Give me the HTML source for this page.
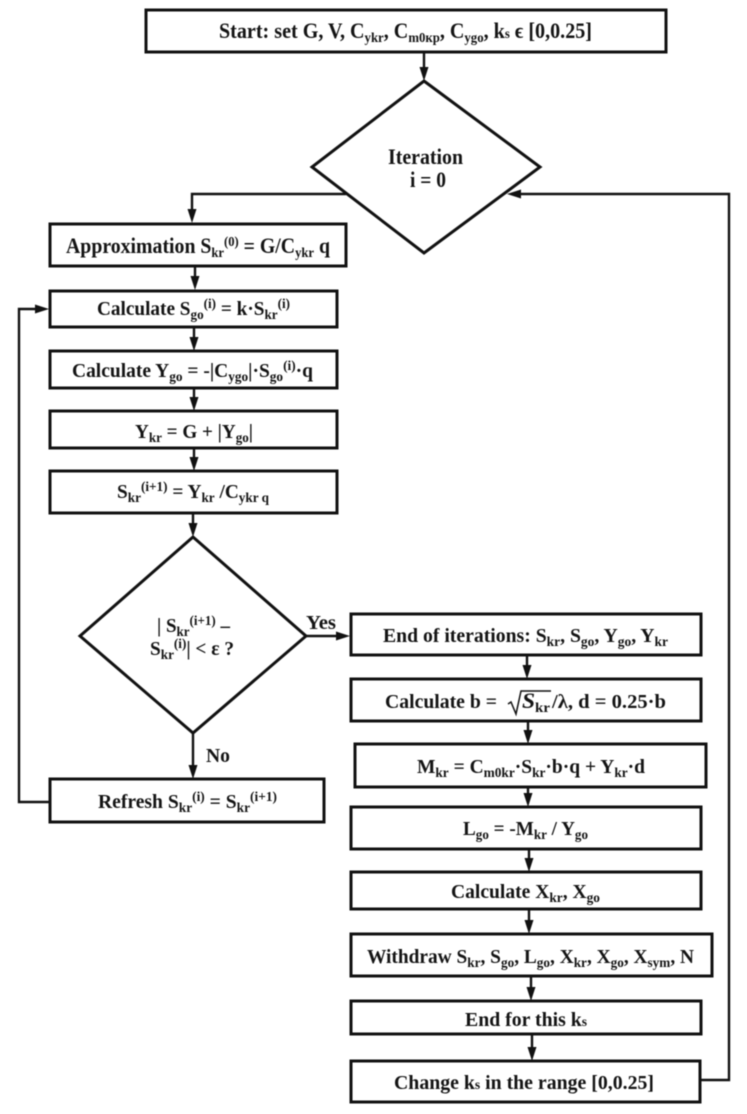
<!DOCTYPE html>
<html>
<head>
<meta charset="utf-8">
<style>
html,body{margin:0;padding:0;background:#fff;width:747px;height:1114px;overflow:hidden}
svg{display:block}
text{font-family:"Liberation Serif",serif;font-weight:bold;font-size:20.5px;fill:#141414}
.s{font-size:14px}
.t{font-size:22px}
rect,polygon.d{fill:#fff;stroke:#111;stroke-width:3}
path.l{fill:none;stroke:#111;stroke-width:2.4}
polygon.a{fill:#111;stroke:none}
</style>
</head>
<body>
<svg width="747" height="1114" viewBox="0 0 747 1114" xmlns="http://www.w3.org/2000/svg">
<g style="filter:blur(0.5px)">
<!-- connectors -->
<path class="l" d="M424 52V70"/><polygon class="a" points="419.5,67 428.5,67 424,81"/>
<path class="l" d="M346 194H192V212"/><polygon class="a" points="187.5,209 196.5,209 192,223"/>
<path class="l" d="M195 266V279"/><polygon class="a" points="190.5,276 199.5,276 195,290"/>
<path class="l" d="M194 327V340"/><polygon class="a" points="189.5,337 198.5,337 194,351"/>
<path class="l" d="M194 388V400"/><polygon class="a" points="189.5,397 198.5,397 194,411"/>
<path class="l" d="M194 448V460"/><polygon class="a" points="189.5,457 198.5,457 194,471"/>
<path class="l" d="M193 513V526"/><polygon class="a" points="188.5,523 197.5,523 193,537"/>
<path class="l" d="M193 733V768"/><polygon class="a" points="188.5,765 197.5,765 193,779"/>
<path class="l" d="M49 802H19V309H38"/><polygon class="a" points="35,304.5 35,313.5 49,309"/>
<path class="l" d="M306 636H340"/><polygon class="a" points="336,631.5 336,640.5 350,636"/>
<path class="l" d="M527 655V668"/><polygon class="a" points="522.5,665 531.5,665 527,679"/>
<path class="l" d="M528 721V733"/><polygon class="a" points="523.5,730 532.5,730 528,744"/>
<path class="l" d="M528 787V796"/><polygon class="a" points="523.5,793 532.5,793 528,807"/>
<path class="l" d="M529 849V861"/><polygon class="a" points="524.5,858 533.5,858 529,872"/>
<path class="l" d="M529 909V923"/><polygon class="a" points="524.5,920 533.5,920 529,934"/>
<path class="l" d="M531 976V990"/><polygon class="a" points="526.5,987 535.5,987 531,1001"/>
<path class="l" d="M532 1034V1050"/><polygon class="a" points="527.5,1047 536.5,1047 532,1061"/>
<path class="l" d="M700 1080H729V194H518"/><polygon class="a" points="521,189.5 521,198.5 507,194"/>

<!-- shapes -->
<rect x="146" y="10" width="520" height="42"/>
<polygon class="d" points="424,81 540,167 424,253 312,167"/>
<rect x="50" y="224" width="296" height="42"/>
<rect x="50" y="291" width="287" height="36"/>
<rect x="50" y="351" width="287" height="37"/>
<rect x="50" y="411" width="287" height="37"/>
<rect x="50" y="471" width="287" height="42"/>
<polygon class="d" points="193,537 306,636 193,733 80,636"/>
<rect x="50" y="779" width="274" height="43"/>
<rect x="351" y="614" width="350" height="41"/>
<rect x="351" y="679" width="350" height="42"/>
<rect x="355" y="744" width="351" height="43"/>
<rect x="351" y="807" width="350" height="42"/>
<rect x="351" y="872" width="350" height="37"/>
<rect x="351" y="934" width="361" height="42"/>
<rect x="351" y="1001" width="350" height="33"/>
<rect x="351" y="1061" width="349" height="41"/>

<!-- labels -->
<text class="t" x="219" y="38" textLength="373" lengthAdjust="spacingAndGlyphs">Start: set G, V, C<tspan class="s" dy="4">ykr</tspan><tspan dy="-4">, C</tspan><tspan class="s" dy="4">m0кр</tspan><tspan dy="-4">, C</tspan><tspan class="s" dy="4">ygo</tspan><tspan dy="-4">, k</tspan><tspan class="s">s</tspan> ϵ [0,0.25]</text>
<text class="t" x="388" y="164" textLength="75" lengthAdjust="spacingAndGlyphs">Iteration</text>
<text class="t" x="410" y="187" textLength="36" lengthAdjust="spacingAndGlyphs">i = 0</text>
<text class="t" x="66" y="253" textLength="264" lengthAdjust="spacingAndGlyphs">Approximation S<tspan class="s" dy="4">kr</tspan><tspan class="s" dy="-11">(0)</tspan><tspan dy="7"> = G/C</tspan><tspan class="s" dy="4">ykr</tspan><tspan dy="-4"> q</tspan></text>
<text x="97" y="315" textLength="193" lengthAdjust="spacingAndGlyphs">Calculate S<tspan class="s" dy="4">go</tspan><tspan class="s" dy="-11">(i)</tspan><tspan dy="7"> = k·S</tspan><tspan class="s" dy="4">kr</tspan><tspan class="s" dy="-11">(i)</tspan></text>
<text x="72" y="377" textLength="241" lengthAdjust="spacingAndGlyphs">Calculate Y<tspan class="s" dy="4">go</tspan><tspan dy="-4"> = -|C</tspan><tspan class="s" dy="4">ygo</tspan><tspan dy="-4">|·S</tspan><tspan class="s" dy="4">go</tspan><tspan class="s" dy="-11">(i)</tspan><tspan dy="7">·q</tspan></text>
<text x="135" y="438" textLength="118" lengthAdjust="spacingAndGlyphs">Y<tspan class="s" dy="4">kr</tspan><tspan dy="-4"> = G + |Y</tspan><tspan class="s" dy="4">go</tspan><tspan dy="-4">|</tspan></text>
<text x="117" y="498" textLength="152" lengthAdjust="spacingAndGlyphs">S<tspan class="s" dy="4">kr</tspan><tspan class="s" dy="-11">(i+1)</tspan><tspan dy="7"> = Y</tspan><tspan class="s" dy="4">kr</tspan><tspan dy="-4"> /C</tspan><tspan class="s" dy="4">ykr q</tspan></text>
<text x="157" y="632" textLength="73" lengthAdjust="spacingAndGlyphs">| S<tspan class="s" dy="4">kr</tspan><tspan class="s" dy="-11">(i+1)</tspan><tspan dy="7"> –</tspan></text>
<text x="150" y="655" textLength="84" lengthAdjust="spacingAndGlyphs">S<tspan class="s" dy="4">kr</tspan><tspan class="s" dy="-11">(i)</tspan><tspan dy="7">| &lt; ε ?</tspan></text>
<text x="306" y="629" textLength="30" lengthAdjust="spacingAndGlyphs">Yes</text>
<text x="206" y="762" textLength="24" lengthAdjust="spacingAndGlyphs">No</text>
<text x="98" y="808" textLength="179" lengthAdjust="spacingAndGlyphs">Refresh S<tspan class="s" dy="4">kr</tspan><tspan class="s" dy="-11">(i)</tspan><tspan dy="7"> = S</tspan><tspan class="s" dy="4">kr</tspan><tspan class="s" dy="-11">(i+1)</tspan></text>
<text x="383" y="642" textLength="285" lengthAdjust="spacingAndGlyphs">End of iterations: S<tspan class="s" dy="4">kr</tspan><tspan dy="-4">, S</tspan><tspan class="s" dy="4">go</tspan><tspan dy="-4">, Y</tspan><tspan class="s" dy="4">go</tspan><tspan dy="-4">, Y</tspan><tspan class="s" dy="4">kr</tspan></text>
<text x="385" y="708" textLength="112" lengthAdjust="spacingAndGlyphs">Calculate b =</text>
<path d="M508 704l3-2 5 12 5-23h30" fill="none" stroke="#111" stroke-width="1.5"/>
<text x="522" y="708" textLength="28" lengthAdjust="spacingAndGlyphs"><tspan style="font-style:italic;font-size:22px">S</tspan><tspan class="s" dy="4">kr</tspan></text>
<text x="552" y="708" textLength="114" lengthAdjust="spacingAndGlyphs">/λ, d = 0.25·b</text>
<text x="417" y="773" textLength="228" lengthAdjust="spacingAndGlyphs">M<tspan class="s" dy="4">kr</tspan><tspan dy="-4"> = C</tspan><tspan class="s" dy="4">m0kr</tspan><tspan dy="-4">·S</tspan><tspan class="s" dy="4">kr</tspan><tspan dy="-4">·b·q + Y</tspan><tspan class="s" dy="4">kr</tspan><tspan dy="-4">·d</tspan></text>
<text x="463" y="835" textLength="125" lengthAdjust="spacingAndGlyphs">L<tspan class="s" dy="4">go</tspan><tspan dy="-4"> = -M</tspan><tspan class="s" dy="4">kr</tspan><tspan dy="-4"> / Y</tspan><tspan class="s" dy="4">go</tspan></text>
<text x="451" y="898" textLength="149" lengthAdjust="spacingAndGlyphs">Calculate X<tspan class="s" dy="4">kr</tspan><tspan dy="-4">, X</tspan><tspan class="s" dy="4">go</tspan></text>
<text x="367" y="963" textLength="327" lengthAdjust="spacingAndGlyphs">Withdraw S<tspan class="s" dy="4">kr</tspan><tspan dy="-4">, S</tspan><tspan class="s" dy="4">go</tspan><tspan dy="-4">, L</tspan><tspan class="s" dy="4">go</tspan><tspan dy="-4">, X</tspan><tspan class="s" dy="4">kr</tspan><tspan dy="-4">, X</tspan><tspan class="s" dy="4">go</tspan><tspan dy="-4">, X</tspan><tspan class="s" dy="4">sym</tspan><tspan dy="-4">, N</tspan></text>
<text x="465" y="1026" textLength="122" lengthAdjust="spacingAndGlyphs">End for this k<tspan class="s">s</tspan></text>
<text x="394" y="1089" textLength="260" lengthAdjust="spacingAndGlyphs">Change k<tspan class="s">s</tspan> in the range [0,0.25]</text>
</g>
</svg>
</body>
</html>
